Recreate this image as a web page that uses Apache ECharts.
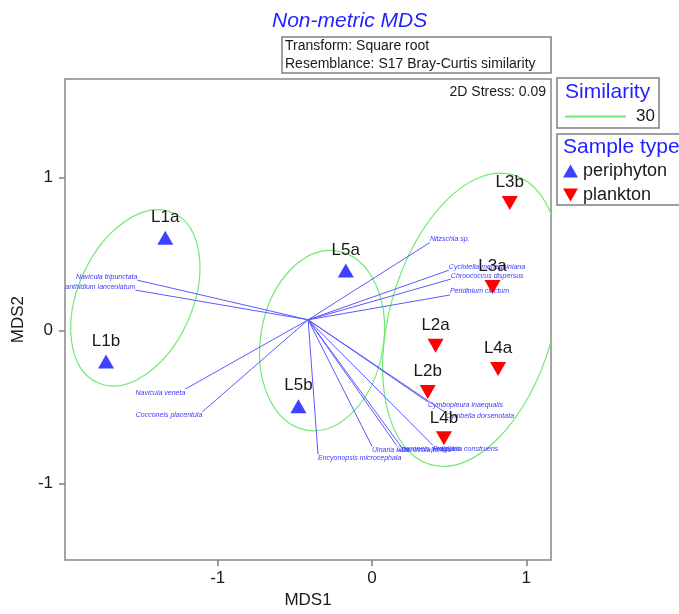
<!DOCTYPE html>
<html>
<head>
<meta charset="utf-8">
<title>Non-metric MDS</title>
<script src="https://cdn.jsdelivr.net/npm/echarts/dist/echarts.min.js"></script>
<style>
  html, body { margin: 0; padding: 0; background: #fff; }
  #chart { width: 679px; height: 614px; }
</style>
</head>
<body>
<div id="chart"></div>
<script>
// samples (MDS1 / MDS2 scores)
const periphytonNames = ['L1a', 'L1b', 'L5a', 'L5b'];
const periphytonMDS1 = [-1.340, -1.724, -0.170, -0.477];
const periphytonMDS2 = [0.608, -0.201, 0.393, -0.494];

const planktonNames = ['L3b', 'L3a', 'L2a', 'L4a', 'L2b', 'L4b'];
const planktonMDS1 = [0.893, 0.781, 0.412, 0.817, 0.361, 0.466];
const planktonMDS2 = [0.835, 0.285, -0.099, -0.250, -0.401, -0.704];

// species vectors (end points), all start from the same origin
const vectorOrigin = [-0.414, 0.071];
const speciesNames = [
  'Navicula tripunctata', 'Achnanthidium lanceolatum', 'Navicula veneta', 'Cocconeis placentula',
  'Nitzschia sp.', 'Cyclotella meneghiniana', 'Chroococcus dispersus', 'Peridinium cinctum',
  'Cymbopleura inaequalis', 'Cymbella dorsenotata', 'Ulnaria ulna', 'Cocconeis pediculus',
  'Denticula tenuis', 'Fragilaria construens', 'Encyonopsis microcephala'
];
const speciesMDS1 = [-1.521, -1.534, -1.210, -1.100, 0.375, 0.498, 0.511, 0.505,
  0.362, 0.479, 0.000, 0.160, 0.190, 0.395, -0.350];
const speciesMDS2 = [0.330, 0.265, -0.382, -0.531, 0.576, 0.395, 0.337, 0.233,
  -0.466, -0.537, -0.757, -0.751, -0.760, -0.750, -0.809];

// 30% similarity contours (centre, semi axes, tilt in degrees)
const similarityLevel = 30;
const clusterMDS1 = [-1.534, -0.324, 0.647];
const clusterMDS2 = [0.214, -0.065, 0.071];
const clusterSemiMajor = [0.602, 0.589, 0.977];
const clusterSemiMinor = [0.375, 0.401, 0.537];
const clusterTilt = [66, 80, 74];

const stress = 0.09;
const xTicks = [-1, 0, 1];
const yTicks = [-1, 0, 1];

const FONT = 'Arial, "Liberation Sans", sans-serif';
const TITLE_BLUE = '#1f1fff';
const GREEN = '#74e874';

const chart = echarts.init(document.getElementById('chart'));

const option = {
  animation: false,
  backgroundColor: '#fff',
  title: {
    text: 'Non-metric MDS',
    left: 272,
    top: 11,
    padding: 0,
    textStyle: { fontSize: 21, fontStyle: 'italic', fontWeight: 'normal', color: TITLE_BLUE, fontFamily: FONT }
  },
  grid: {
    left: 65, right: 128, top: 79, bottom: 49,
    show: true, borderColor: '#888', borderWidth: 1.5, backgroundColor: 'transparent'
  },
  legend: [
    {
      data: [String(similarityLevel)],
      left: 565, top: 108, padding: 0,
      icon: 'rect', itemWidth: 61, itemHeight: 2, itemGap: 10,
      selectedMode: false,
      textStyle: { fontSize: 17, color: '#1a1a1a', fontFamily: FONT, padding: [0, 0, 0, 5] }
    },
    {
      data: ['periphyton', 'plankton'],
      orient: 'vertical',
      left: 563, top: 162, padding: 0,
      itemWidth: 15, itemHeight: 13, itemGap: 6,
      selectedMode: false,
      textStyle: { fontSize: 18, color: '#1a1a1a', fontFamily: FONT }
    }
  ],
  graphic: [
    { type: 'rect', shape: { x: 282, y: 37, width: 269, height: 36 }, style: { fill: '#fff', stroke: '#808080', lineWidth: 1.5 } },
    { type: 'text', x: 285, y: 46, style: { text: 'Transform: Square root', font: '14px ' + FONT, fill: '#1a1a1a', verticalAlign: 'middle' } },
    { type: 'text', x: 285, y: 64, style: { text: 'Resemblance: S17 Bray-Curtis similarity', font: '14px ' + FONT, fill: '#1a1a1a', verticalAlign: 'middle' } },
    { type: 'text', x: 546, y: 92, style: { text: '2D Stress: ' + stress.toFixed(2), font: '14px ' + FONT, fill: '#1a1a1a', align: 'right', verticalAlign: 'middle' } },
    { type: 'rect', shape: { x: 557, y: 78, width: 102, height: 50 }, style: { fill: '#fff', stroke: '#808080', lineWidth: 1.5 } },
    { type: 'text', x: 565, y: 92, style: { text: 'Similarity', font: '21px ' + FONT, fill: TITLE_BLUE, verticalAlign: 'middle' } },
    { type: 'rect', shape: { x: 557, y: 134, width: 140, height: 71 }, style: { fill: '#fff', stroke: '#808080', lineWidth: 1.5 } },
    { type: 'text', x: 563, y: 147, style: { text: 'Sample type', font: '21px ' + FONT, fill: TITLE_BLUE, verticalAlign: 'middle' } }
  ],
  xAxis: {
    type: 'value', min: -1.99, max: 1.16,
    name: 'MDS1', nameLocation: 'middle', nameGap: 31,
    nameTextStyle: { fontSize: 17, color: '#1a1a1a', fontFamily: FONT },
    axisLine: { show: false, onZero: false },
    axisTick: { show: true, length: 6, customValues: xTicks, lineStyle: { color: '#808080', width: 1.5 } },
    axisLabel: { fontSize: 17, color: '#1a1a1a', fontFamily: FONT, margin: 10, customValues: xTicks },
    splitLine: { show: false }
  },
  yAxis: {
    type: 'value', min: -1.50, max: 1.645,
    name: 'MDS2', nameLocation: 'middle', nameGap: 31, nameRotate: 90,
    nameTextStyle: { fontSize: 17, color: '#1a1a1a', fontFamily: FONT },
    axisLine: { show: false, onZero: false },
    axisTick: { show: true, length: 6, customValues: yTicks, lineStyle: { color: '#808080', width: 1.5 } },
    axisLabel: { fontSize: 17, color: '#1a1a1a', fontFamily: FONT, margin: 12, customValues: yTicks },
    splitLine: { show: false }
  },
  series: [
    {
      // similarity ellipses
      name: String(similarityLevel),
      type: 'custom',
      clip: true,
      z: 1,
      itemStyle: { color: GREEN },
      encode: { x: 0, y: 1 },
      data: clusterMDS1.map((x, i) => [x, clusterMDS2[i], clusterSemiMajor[i], clusterSemiMinor[i], clusterTilt[i]]),
      renderItem: function (params, api) {
        const c = api.coord([api.value(0), api.value(1)]);
        const s = api.size([api.value(2), api.value(3)]);
        return {
          type: 'ellipse',
          x: c[0], y: c[1],
          rotation: api.value(4) * Math.PI / 180,
          shape: { cx: 0, cy: 0, rx: s[0], ry: s[1] },
          style: { fill: null, stroke: GREEN, lineWidth: 1.2 }
        };
      }
    },
    {
      // species vectors
      name: 'species',
      type: 'custom',
      clip: true,
      z: 2,
      encode: { x: 0, y: 1 },
      data: speciesMDS1.map((x, i) => [x, speciesMDS2[i]]),
      renderItem: function (params, api) {
        const o = api.coord(vectorOrigin);
        const e = api.coord([api.value(0), api.value(1)]);
        return {
          type: 'group',
          children: [
            { type: 'line', shape: { x1: o[0], y1: o[1], x2: e[0], y2: e[1] }, style: { stroke: '#5a5aff', lineWidth: 1 } },
            {
              type: 'text', x: e[0], y: e[1],
              style: {
                text: speciesNames[params.dataIndex],
                fill: '#3a3aff',
                fontSize: 7, fontStyle: 'italic', fontFamily: FONT,
                align: e[0] < o[0] ? 'right' : 'left',
                verticalAlign: e[1] < o[1] ? 'bottom' : 'top'
              }
            }
          ]
        };
      }
    },
    {
      name: 'periphyton',
      type: 'scatter',
      z: 3,
      symbol: 'triangle',
      symbolSize: [16, 14],
      itemStyle: { color: '#4040ff', opacity: 1 },
      label: { show: true, position: 'top', distance: 5, formatter: '{b}', fontSize: 17, color: '#1a1a1a', fontFamily: FONT },
      data: periphytonNames.map((n, i) => ({ name: n, value: [periphytonMDS1[i], periphytonMDS2[i]] }))
    },
    {
      name: 'plankton',
      type: 'scatter',
      z: 3,
      symbol: 'path://M0,0 L16,0 L8,14 Z',
      symbolSize: [16, 14],
      itemStyle: { color: '#ff0000', opacity: 1 },
      label: { show: true, position: 'top', distance: 5, formatter: '{b}', fontSize: 17, color: '#1a1a1a', fontFamily: FONT },
      data: planktonNames.map((n, i) => ({ name: n, value: [planktonMDS1[i], planktonMDS2[i]] }))
    }
  ]
};

chart.setOption(option);
</script>
</body>
</html>
